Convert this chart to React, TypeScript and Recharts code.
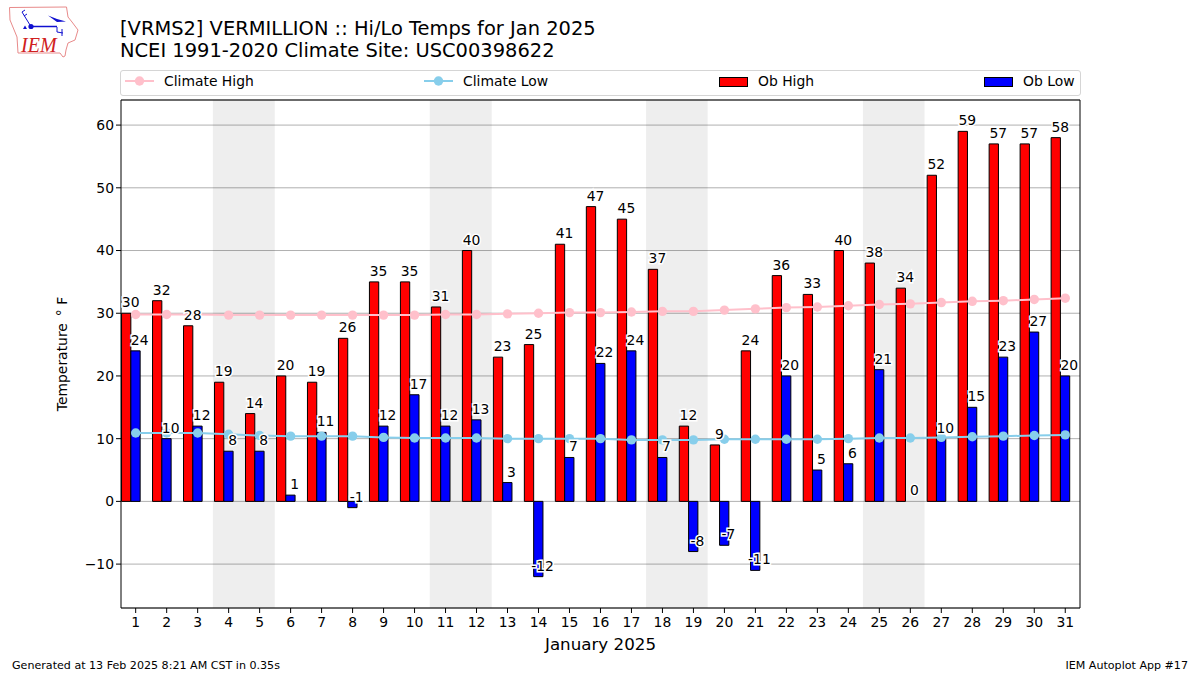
import {
  ComposedChart,
  Bar,
  Line,
  XAxis,
  YAxis,
  CartesianGrid,
  ReferenceArea,
  ReferenceLine,
} from "recharts";

const days = [1, 2, 3, 4, 5, 6, 7, 8, 9, 10, 11, 12, 13, 14, 15, 16, 17, 18, 19, 20, 21, 22, 23, 24, 25, 26, 27, 28, 29, 30, 31];
const obHigh = [30, 32, 28, 19, 14, 20, 19, 26, 35, 35, 31, 40, 23, 25, 41, 47, 45, 37, 12, 9, 24, 36, 33, 40, 38, 34, 52, 59, 57, 57, 58];
const obLow = [24, 10, 12, 8, 8, 1, 11, -1, 12, 17, 12, 13, 3, -12, 7, 22, 24, 7, -8, -7, -11, 20, 5, 6, 21, 0, 10, 15, 23, 27, 20];
const climateHigh = [29.8, 29.8, 29.8, 29.7, 29.7, 29.7, 29.7, 29.7, 29.7, 29.7, 29.8, 29.8, 29.9, 30, 30.1, 30.1, 30.2, 30.3, 30.3, 30.5, 30.7, 30.9, 31, 31.2, 31.4, 31.5, 31.7, 31.9, 32, 32.2, 32.4];
const climateLow = [10.9, 10.9, 10.9, 10.7, 10.5, 10.4, 10.4, 10.4, 10.2, 10.1, 10.1, 10.1, 10, 10, 10, 10, 9.8, 9.8, 9.8, 9.9, 9.9, 9.9, 9.9, 10, 10.1, 10.1, 10.2, 10.3, 10.4, 10.5, 10.6];
const yTicks = [-10, 0, 10, 20, 30, 40, 50, 60];
const weekends = [
  [3.49, 5.49],
  [10.49, 12.49],
  [17.47, 19.46],
  [24.47, 26.46],
];

const data = days.map((day, i) => ({
  day,
  obHigh: obHigh[i],
  obLow: obLow[i],
  climateHigh: climateHigh[i],
  climateLow: climateLow[i],
}));

const FONT = "'DejaVu Sans', sans-serif";
const X_MIN = 0.526;
const X_MAX = 31.476;
const BAR_SHIFT = 0.15;

function ValueLabel({ cx, cy, value, dx, index }: any) {
  if (value == null) return null;
  return (
    <text
      key={index}
      x={cx + dx}
      y={cy - 6}
      textAnchor="middle"
      fontSize={13.9}
      fontFamily={FONT}
      fill="#000"
      stroke="#fff"
      strokeWidth={3}
      style={{ paintOrder: "stroke" }}
    >
      {value}
    </text>
  );
}

function LegendBox() {
  const items = [
    { name: "Climate High", color: "#FFC0CB", kind: "line", left: 125 },
    { name: "Climate Low", color: "#87CEEB", kind: "line", left: 424 },
    { name: "Ob High", color: "#FF0000", kind: "bar", left: 719 },
    { name: "Ob Low", color: "#0000FF", kind: "bar", left: 984 },
  ];
  return (
    <div
      style={{
        position: "absolute",
        left: 120,
        top: 70,
        width: 959,
        height: 24,
        border: "1px solid #d5d5d5",
        borderRadius: 3,
        background: "#fff",
      }}
    >
      {items.map((it) => (
        <div key={it.name}>
          {it.kind === "line" ? (
            <svg
              width={29}
              height={12}
              style={{ position: "absolute", left: it.left - 121, top: 4 }}
            >
              <line x1={0} x2={29} y1={6} y2={6} stroke={it.color} strokeWidth={2} />
              <circle cx={14.5} cy={6} r={4.7} fill={it.color} />
            </svg>
          ) : (
            <div
              style={{
                position: "absolute",
                left: it.left - 121,
                top: 6,
                width: 27,
                height: 8,
                background: it.color,
                border: "1px solid #000",
              }}
            />
          )}
          <span
            style={{
              position: "absolute",
              left: it.left - 121 + 39,
              top: 1,
              fontSize: 13.9,
              lineHeight: "18px",
              whiteSpace: "nowrap",
            }}
          >
            {it.name}
          </span>
        </div>
      ))}
    </div>
  );
}

function Logo() {
  return (
    <svg width={80} height={60} style={{ position: "absolute", left: 0, top: 0 }}>
      <path
        d="M9.5 7.5 L66.5 7 L68 17 L72 22 L78 30 L75 40 L68 43 L66 50 L65 56 L63 57 L60 53 L18 53 L17 37 L10 20 Z"
        fill="none"
        stroke="#e88a8a"
        strokeWidth={1}
      />
      <path d="M31 26.5 H57" stroke="#1010d0" strokeWidth={1.5} />
      <circle cx={31} cy={26.5} r={2.6} fill="#1010d0" />
      <path d="M30 25 L22 12 M22 12 L25 10 M24 16 L27 14" stroke="#1010d0" strokeWidth={1} fill="none" />
      <path d="M48 15.5 L57 19 L66 21.5 L57 22 Z" fill="#1010d0" />
      <path d="M57 27 V32 L63 33 M62 29 V36" stroke="#1010d0" strokeWidth={1} fill="none" />
      <path d="M23 29 L25 25.5 L27 29 Z" fill="#1010d0" />
      <text x={21} y={51.5} fontSize={20} fontStyle="italic" fontFamily="'Liberation Serif', serif" fill="#d02020">
        IEM
      </text>
    </svg>
  );
}

export default function App() {
  return (
    <div
      style={{
        position: "absolute",
        left: 0,
        top: 0,
        width: 1200,
        height: 675,
        background: "#fff",
        fontFamily: FONT,
        color: "#000",
        overflow: "hidden",
      }}
    >
      <Logo />
      <div
        style={{
          position: "absolute",
          left: 120,
          top: 18,
          fontSize: 19.45,
          lineHeight: "22px",
          whiteSpace: "nowrap",
        }}
      >
        [VRMS2] VERMILLION :: Hi/Lo Temps for Jan 2025
        <br />
        NCEI 1991-2020 Climate Site: USC00398622
      </div>
      <LegendBox />
      <ComposedChart
        width={1200}
        height={675}
        data={data}
        barGap={0}
        barSize={9.3}
        margin={{ top: 100, right: 120, bottom: 27, left: 61 }}
        style={{ position: "absolute", left: 0, top: 0 }}
      >
        <XAxis
          dataKey="day"
          type="number"
          domain={[X_MIN, X_MAX]}
          allowDataOverflow
          ticks={days}
          interval={0}
          height={40}
          tick={{ fontSize: 13.9, fill: "#000", fontFamily: FONT }}
          tickLine={{ stroke: "#000" }}
          tickSize={5}
          tickMargin={4}
          axisLine={{ stroke: "#000" }}
          label={{
            value: "January 2025",
            position: "insideBottom",
            offset: -2,
            fontSize: 16.7,
            fill: "#000",
            fontFamily: FONT,
          }}
        />
        <XAxis
          xAxisId="bars"
          dataKey="day"
          type="number"
          domain={[X_MIN + BAR_SHIFT, X_MAX + BAR_SHIFT]}
          allowDataOverflow
          hide
        />
        <YAxis
          type="number"
          domain={[-17, 64]}
          allowDataOverflow
          ticks={yTicks}
          interval={0}
          width={60}
          tick={{ fontSize: 13.9, fill: "#000", fontFamily: FONT }}
          tickFormatter={(v: number) => (v < 0 ? `\u2212${-v}` : `${v}`)}
          tickLine={{ stroke: "#000" }}
          tickSize={5}
          axisLine={{ stroke: "#000" }}
          label={{
            value: "Temperature\u2002\u00b0 F",
            angle: -90,
            position: "insideLeft",
            offset: 1.5,
            fontSize: 13.9,
            fill: "#000",
            fontFamily: FONT,
            style: { textAnchor: "middle" },
          }}
        />
        <CartesianGrid vertical={false} stroke="#b0b0b0" strokeWidth={1} />
        {weekends.map(([a, b]) => (
          <ReferenceArea key={a} x1={a} x2={b} y1={-17} y2={64} fill="#000" fillOpacity={0.067} stroke="none" />
        ))}
        <ReferenceLine y={64} stroke="#000" />
        <ReferenceLine x={X_MAX} stroke="#000" />
        <Bar xAxisId="bars" dataKey="obHigh" fill="#FF0000" stroke="#000" strokeWidth={1} isAnimationActive={false} />
        <Bar xAxisId="bars" dataKey="obLow" fill="#0000FF" stroke="#000" strokeWidth={1} isAnimationActive={false} />
        <Line dataKey="climateHigh" stroke="#FFC0CB" strokeWidth={2} dot={{ r: 4.7, fill: "#FFC0CB", stroke: "none" }} isAnimationActive={false} />
        <Line dataKey="climateLow" stroke="#87CEEB" strokeWidth={2} dot={{ r: 4.7, fill: "#87CEEB", stroke: "none" }} isAnimationActive={false} />
        <Line dataKey="obHigh" stroke="none" dot={(p: any) => <ValueLabel {...p} key={p.index} dx={-5} />} isAnimationActive={false} />
        <Line dataKey="obLow" stroke="none" dot={(p: any) => <ValueLabel {...p} key={p.index} dx={4} />} isAnimationActive={false} />
      </ComposedChart>
      <div style={{ position: "absolute", left: 12, top: 659, fontSize: 11.1, lineHeight: "14px" }}>
        Generated at 13 Feb 2025 8:21 AM CST in 0.35s
      </div>
      <div style={{ position: "absolute", right: 12, top: 659, fontSize: 11.1, lineHeight: "14px" }}>
        IEM Autoplot App #17
      </div>
    </div>
  );
}
